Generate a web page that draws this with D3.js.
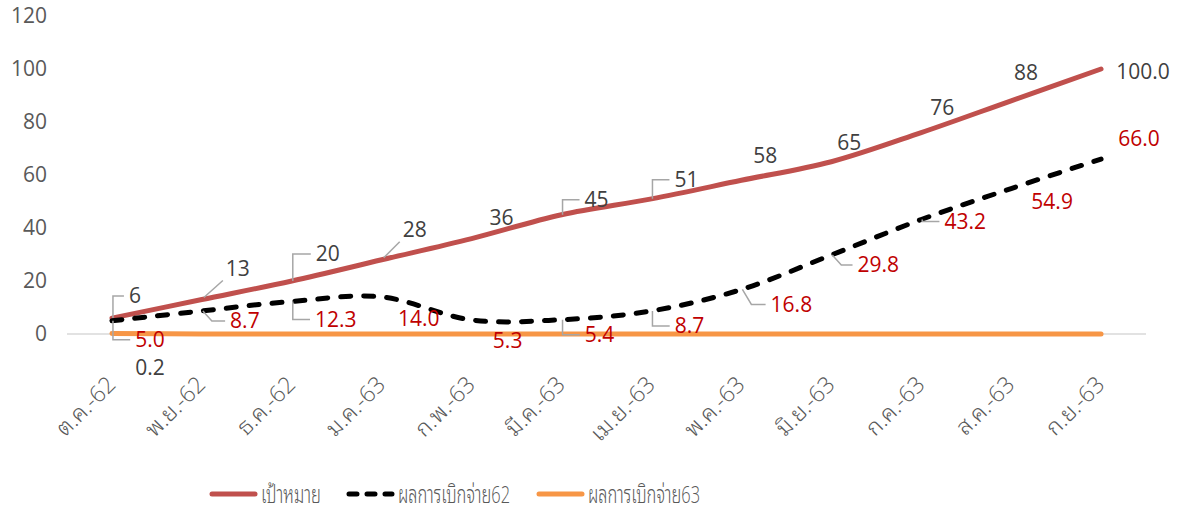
<!DOCTYPE html>
<html>
<head>
<meta charset="utf-8">
<script src="https://cdn.jsdelivr.net/npm/d3@7"></script>
<style>
  body { margin: 0; background: #fff; }
  text { font-family: "Open Sans", "Noto Sans Thai Looped", "Noto Sans Thai", "Noto Sans Thai UI", "Loma", "Garuda", "Noto Sans", sans-serif; }
</style>
</head>
<body>
<script>
/* chart values */
var months = ["ต.ค.-62", "พ.ย.-62", "ธ.ค.-62", "ม.ค.-63", "ก.พ.-63", "มี.ค.-63",
              "เม.ย.-63", "พ.ค.-63", "มิ.ย.-63", "ก.ค.-63", "ส.ค.-63", "ก.ย.-63"];
var target = [6, 13, 20, 28, 36, 45, 51, 58, 65, 76, 88, 100];
var paid62 = [5.0, 8.7, 12.3, 14.0, 5.3, 5.4, 8.7, 16.8, 29.8, 43.2, 54.9, 66.0];
var paid63 = [0.2, 0, 0, 0, 0, 0, 0, 0, 0, 0, 0, 0];
var yTicks = [0, 20, 40, 60, 80, 100, 120];
var seriesNames = ["เป้าหมาย", "ผลการเบิกจ่าย62", "ผลการเบิกจ่าย63"];

/* label placement (offset of label centre from its point) and leader style */
var targetOffsets = [[23,-22],[36,-31],[36,-27],[33,-30],[30,-21],[35,-15],[35,-19],[24,-25],[18,-19],[21,-25],[15,-28],[42,3]];
var targetLeaders = ["v","s","v","s","","v","v","","","","",""];
var paidOffsets = [[38,19],[43,10],[44,18],[37,22],[36,21],[38,15],[38,15],[50,15],[47,10],[44,2],[41,13],[38,-20]];
var paidLeaders = ["v","d","v","","","v","v","d","d","v","",""];
var paid63Offsets = [[38,34]];

var W = 1181, H = 513;
var svg = d3.select("body").append("svg")
    .attr("width", W)
    .attr("height", H);

var x = d3.scalePoint()
    .domain(months)
    .range([67, 1146])
    .padding(0.5);

var y = d3.scaleLinear()
    .domain([0, 120])
    .range([334, 16]);

/* y axis labels */
svg.append("g")
    .attr("transform", "translate(47,0)")
    .call(d3.axisLeft(y).tickValues(yTicks).tickSize(0).tickPadding(0))
    .call(function(g) { g.select(".domain").remove(); })
    .selectAll("text")
    .attr("font-size", 21)
    .attr("fill", "#595959")
    .style("font-family", "'Open Sans', sans-serif");

/* x axis line */
svg.append("line")
    .attr("x1", 67).attr("x2", 1146)
    .attr("y1", y(0)).attr("y2", y(0))
    .attr("stroke", "#d9d9d9")
    .attr("stroke-width", 1.5);

/* x tick labels, rotated */
svg.append("g").selectAll("text")
    .data(months)
    .enter().append("text")
    .attr("transform", function(d) { return "translate(" + (x(d) + 5) + ",386) rotate(-45)"; })
    .attr("text-anchor", "end")
    .attr("font-size", 23)
    .attr("font-weight", 300)
    .attr("fill", "#595959")
    .text(function(d) { return d; });

var line = d3.line()
    .x(function(d, i) { return x(months[i]); })
    .y(function(d) { return y(d); })
    .curve(d3.curveCardinal.tension(0));

svg.append("path")
    .datum(target)
    .attr("d", line)
    .attr("fill", "none")
    .attr("stroke", "#c0504d")
    .attr("stroke-width", 5)
    .attr("stroke-linecap", "round");

svg.append("path")
    .datum(paid62)
    .attr("d", line)
    .attr("fill", "none")
    .attr("stroke", "#000")
    .attr("stroke-width", 5)
    .attr("stroke-dasharray", "10,13")
    .attr("stroke-linecap", "round");

svg.append("path")
    .datum(paid63)
    .attr("d", line)
    .attr("fill", "none")
    .attr("stroke", "#f79646")
    .attr("stroke-width", 5)
    .attr("stroke-linecap", "round");

/* data labels with leader lines */
function addLabels(values, offsets, leaders, fmt, color) {
    var g = svg.append("g");
    offsets.forEach(function(off, i) {
        var px = x(months[i]), py = y(values[i]);
        var cx = px + off[0], cy = py + off[1];
        var t = g.append("text")
            .attr("x", cx).attr("y", cy)
            .attr("dy", "0.35em")
            .attr("text-anchor", "middle")
            .attr("font-size", 21)
            .attr("fill", color)
            .text(fmt(values[i], i));
        var w = t.node().getComputedTextLength();
        var left = cx - w / 2 - 5;
        var kind = leaders ? leaders[i] : "";
        var pts = null;
        if (kind == "v") pts = [[px + 1, py], [px + 1, cy], [left, cy]];
        if (kind == "d") pts = [[px + 1, py], [px + 10, cy], [left, cy]];
        if (kind == "s") pts = [[px + 2, py - 2], [left + 2, cy + 12]];
        if (pts) {
            g.insert("polyline", "text")
                .attr("points", pts.map(function(p) { return p.join(","); }).join(" "))
                .attr("fill", "none")
                .attr("stroke", "#a6a6a6")
                .attr("stroke-width", 1.5);
        }
    });
}

addLabels(target, targetOffsets, targetLeaders, function(v, i) {
    return i == target.length - 1 ? v.toFixed(1) : String(v);
}, "#404040");
addLabels(paid62, paidOffsets, paidLeaders, function(v) { return v.toFixed(1); }, "#c00000");
addLabels(paid63, paid63Offsets, null, function(v) { return v.toFixed(1); }, "#404040");

/* legend */
var legendX = [210, 347, 537];
var legendTextW = [60, 112, 112];
var legend = svg.append("g");
seriesNames.forEach(function(name, i) {
    var lx = legendX[i];
    var sw = 47;
    legend.append("line")
        .attr("x1", lx + 2).attr("x2", lx + sw - 2)
        .attr("y1", 494).attr("y2", 494)
        .attr("stroke", ["#c0504d", "#000", "#f79646"][i])
        .attr("stroke-width", 5)
        .attr("stroke-linecap", "round")
        .attr("stroke-dasharray", i == 1 ? "8,10" : null);
    legend.append("text")
        .attr("x", lx + sw + 4)
        .attr("y", 494)
        .attr("dy", "0.38em")
        .attr("font-size", 24)
        .attr("font-weight", 300)
        .attr("fill", "#595959")
        .attr("textLength", legendTextW[i])
        .attr("lengthAdjust", "spacingAndGlyphs")
        .text(name);
});
</script>
</body>
</html>
